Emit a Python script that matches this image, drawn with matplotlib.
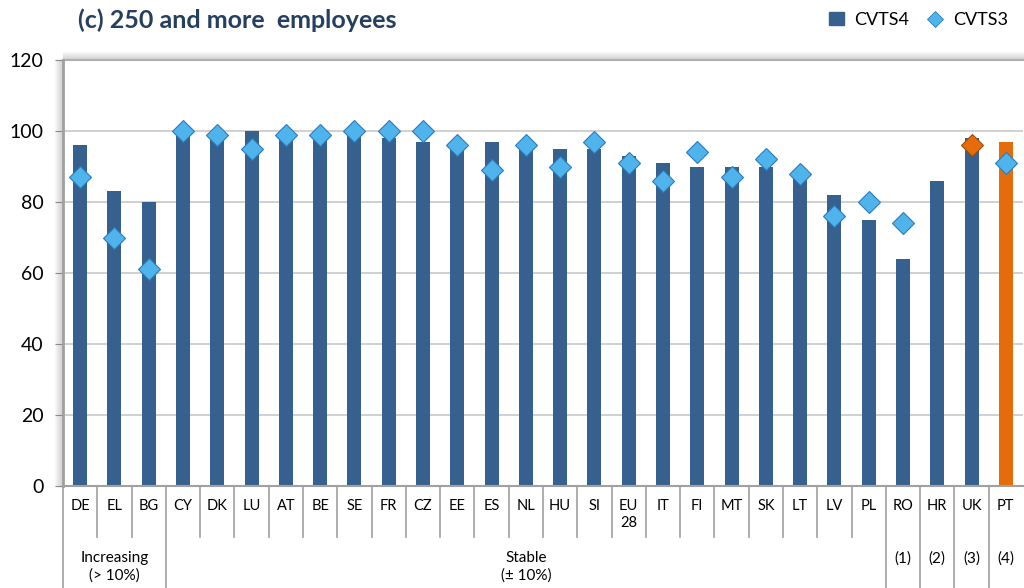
import matplotlib
matplotlib.use("Agg")
import matplotlib.pyplot as plt
from matplotlib.lines import Line2D
from matplotlib.patches import Patch
from matplotlib.transforms import offset_copy

# Training enterprises, 250+ employees: CVTS4 vs CVTS3
countries = ["DE", "EL", "BG", "CY", "DK", "LU", "AT", "BE", "SE", "FR", "CZ", "EE", "ES",
             "NL", "HU", "SI", "EU\n28", "IT", "FI", "MT", "SK", "LT", "LV", "PL",
             "RO", "HR", "UK", "PT"]
cvts4 = [96, 83, 80, 100, 99, 100, 99, 99, 100, 98, 97, 96, 97,
         96, 95, 95, 93, 91, 90, 90, 90, 88, 82, 75,
         64, 86, 98, 97]
cvts3 = [87, 70, 61, 100, 99, 95, 99, 99, 100, 100, 100, 96, 89,
         96, 90, 97, 91, 86, 94, 87, 92, 88, 76, 80,
         74, None, 96, 91]
groups = [("Increasing\n(> 10%)", 0, 2), ("Stable\n(± 10%)", 3, 23),
          ("(1)", 24, 24), ("(2)", 25, 25), ("(3)", 26, 26), ("(4)", 27, 27)]

BLUE = "#36618f"
ORANGE = "#e46c0a"
DIAMOND = "#4fb3ec"
DIAMOND_EDGE = "#2b7cbc"
FONT = "Lato"

fig = plt.figure(figsize=(10.24, 5.88), dpi=100)
ax = fig.add_axes([63 / 1024, 1 - 486 / 588, 960 / 1024, 426 / 588])

x = list(range(len(countries)))
bar_colors = [ORANGE if c == "PT" else BLUE for c in countries]
ax.bar(x, cvts4, width=0.41, color=bar_colors, zorder=2)

for i, v in enumerate(cvts3):
    if v is None:
        continue
    if countries[i] == "UK":
        fc, ec = ORANGE, "#a44c06"
    else:
        fc, ec = DIAMOND, DIAMOND_EDGE
    ax.plot(i, v, marker="D", ms=11, mfc=fc, mec=ec, mew=0.8, zorder=3, clip_on=False)

ax.set_xlim(-0.5, len(countries) - 0.5)
ax.set_ylim(0, 120)
ax.set_yticks(range(0, 121, 20))
ax.set_xticks([])
ax.tick_params(axis="y", length=6, color="#909090", labelsize=14, pad=8)
for lab in ax.get_yticklabels():
    lab.set_fontfamily(FONT)
ax.grid(axis="y", color="#c8c8c8", lw=1.2, zorder=0)

for s in ["right", "top"]:
    ax.spines[s].set_visible(False)
ax.spines["left"].set_color("#a0a0a0")
ax.spines["left"].set_linewidth(2)
ax.spines["bottom"].set_color("#a0a0a0")
ax.spines["bottom"].set_linewidth(1.5)

# soft shadow along the left and top edges of the plot area
for k in range(1, 9):
    a = 0.28 * (1 - k / 9)
    t_left = offset_copy(ax.transAxes, fig=fig, x=-k, y=0, units="dots")
    ax.plot([0, 0], [0, 1], color="#707070", alpha=a, lw=1, transform=t_left, clip_on=False)
    t_top = offset_copy(ax.transAxes, fig=fig, x=0, y=k, units="dots")
    ax.plot([0, 1], [1, 1], color="#707070", alpha=a, lw=1, transform=t_top, clip_on=False)
ax.plot([0, 1], [1, 1], color="#b0b0b0", lw=1.5, transform=ax.transAxes, clip_on=False)

# category labels and separators below the axis
xt = ax.get_xaxis_transform()
for i, c in enumerate(countries):
    ax.text(i, -0.03, c, transform=xt, ha="center", va="top", fontsize=10.5,
            fontfamily=FONT, linespacing=1.25)

long_edges = {-0.5}
for name, a, b in groups:
    long_edges.add(a - 0.5)
    long_edges.add(b + 0.5)
long_edges.discard(len(countries) - 0.5)
for e in [i - 0.5 for i in range(len(countries))]:
    y_end = -0.24 if e in long_edges else -0.12
    ax.plot([e, e], [0, y_end], color="#a0a0a0", lw=1.2, transform=xt, clip_on=False)

for name, a, b in groups:
    yy = -0.19 if "\n" in name else -0.17
    ax.text((a + b) / 2, yy, name, transform=xt, ha="center", va="center",
            fontsize=11, fontfamily=FONT, linespacing=1.35)

fig.text(78 / 1024, 1 - 20 / 588, "(c) 250 and more  employees", fontsize=18,
         fontweight="bold", color="#243f60", fontfamily=FONT, va="center")

handles = [Patch(color=BLUE),
           Line2D([], [], marker="D", ls="", ms=8.5, mfc=DIAMOND, mec=DIAMOND_EDGE, mew=0.6)]
fig.legend(handles, ["CVTS4", "CVTS3"], loc="center right", bbox_to_anchor=(1.0, 1 - 20 / 588),
           ncol=2, frameon=False, prop={"family": FONT, "size": 13},
           handlelength=0.8, handletextpad=0.6, columnspacing=1.0)

fig.savefig("out.png", dpi=100)
